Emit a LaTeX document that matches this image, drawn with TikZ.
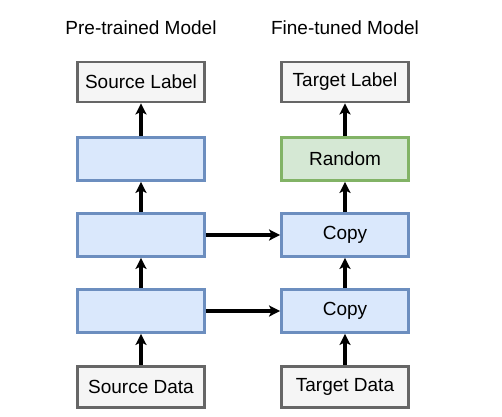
\documentclass[tikz,border=0pt]{standalone}
\usepackage{fontspec}
\setmainfont{Liberation Sans}
\usetikzlibrary{arrows.meta}
\definecolor{greyfill}{HTML}{F5F5F5}
\definecolor{greydraw}{HTML}{666666}
\definecolor{bluefill}{HTML}{DAE8FC}
\definecolor{bluedraw}{HTML}{6C8EBF}
\definecolor{greenfill}{HTML}{D5E8D4}
\definecolor{greendraw}{HTML}{82B366}
\tikzset{
  box/.style={draw, line width=2.8pt, minimum width=127pt, minimum height=43pt, inner sep=0pt, font=\fontsize{19pt}{22pt}\selectfont},
  greybox/.style={box, fill=greyfill, draw=greydraw, minimum height=40pt},
  bluebox/.style={box, fill=bluefill, draw=bluedraw},
  greenbox/.style={box, fill=greenfill, draw=greendraw},
  title/.style={font=\fontsize{19pt}{23pt}\selectfont},
  conn/.style={-{Stealth[length=11pt,width=11pt,inset=2.5pt]}, line width=3.2pt, black}
}
\begin{document}
\begin{tikzpicture}[x=1pt,y=-1pt]
\useasboundingbox[fill=white] (0,0) rectangle (502,416);
\node[title] (t1) at (141,28) {Pre-trained Model};
\node[title] (t2) at (345,28) {Fine-tuned Model};
\node[greybox] (sl) at (141,82) {Source Label};
\node[greybox] (tl) at (345,82) {Target Label};
\node[bluebox] (b1) at (141,159) {};
\node[greenbox] (r) at (345,159) {Random};
\node[bluebox] (b2) at (141,235) {};
\node[bluebox] (c2) at (345,235) {Copy};
\node[bluebox] (b3) at (141,311) {};
\node[bluebox] (c3) at (345,311) {Copy};
\node[greybox, minimum height=41pt] (sd) at (141,387) {Source Data};
\node[greybox, minimum height=41pt] (td) at (345,387) {Target Data};
\draw[conn] (b1) -- (sl);
\draw[conn] (b2) -- (b1);
\draw[conn] (b3) -- (b2);
\draw[conn] (sd) -- (b3);
\draw[conn] (r) -- (tl);
\draw[conn] (c2) -- (r);
\draw[conn] (c3) -- (c2);
\draw[conn] (td) -- (c3);
\draw[conn] (b2) -- (c2);
\draw[conn] (b3) -- (c3);
\end{tikzpicture}
\end{document}
